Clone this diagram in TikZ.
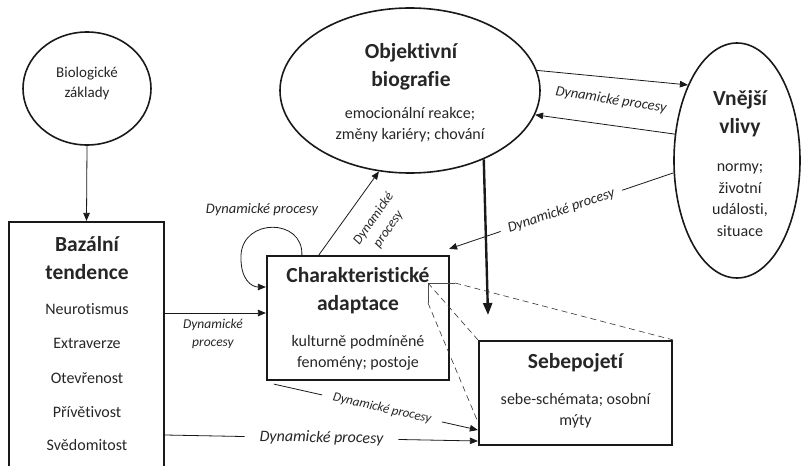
\documentclass[tikz,border=0pt]{standalone}
\usepackage{fontspec}
\setmainfont{Carlito}[Ligatures={NoCommon}]
\usetikzlibrary{shapes.geometric,arrows.meta,calc}
\begin{document}
\begin{tikzpicture}[x=1pt,y=1pt,
  ell/.style={draw=black!90, ellipse, line width=1.6pt, inner sep=0pt},
  box/.style={draw=black!90, rectangle, line width=2.2pt, inner sep=0pt},
  ttl/.style={font=\fontsize{21.5}{28}\selectfont\bfseries, align=center, text=black!85, inner sep=0pt},
  bdy/.style={font=\fontsize{16}{21}\selectfont, align=center, text=black!85, inner sep=0pt},
  arr/.style={-{Triangle[length=8pt,width=6.5pt]}, line width=0.8pt, draw=black!90},
  thickarr/.style={-{Triangle[length=12pt,width=9pt]}, line width=2.4pt, draw=black!90},
  dyn/.style={font=\fontsize{#1}{18}\selectfont\itshape, text=black!85, align=center},
  thinl/.style={draw=black!70, line width=0.6pt},
  dashl/.style={draw=black!80, line width=0.6pt, dash pattern=on 6pt off 4pt}]
\useasboundingbox (0,0) rectangle (801,-466);
\clip (0,0) rectangle (801,-466);

% shapes
\node[ell, minimum width=128, minimum height=113] (bio) at (87,-88.5) {};
\node[bdy, font=\fontsize{15}{20}\selectfont] (biot) at (87,-83) {Biologické\\základy};

\node[box, minimum width=155, minimum height=253] (bazal) at (86.5,-348.5) {};
\node[ttl] (bazalt) at (87,-258) {Bazální\\tendence};
\node[bdy] (trait1) at (87,-309) {Neurotismus};
\node[bdy] (trait2) at (87,-343) {Extraverze};
\node[bdy] (trait3) at (87,-378) {Otevřenost};
\node[bdy] (trait4) at (87,-412) {Přívětivost};
\node[bdy] (trait5) at (87,-445) {Svědomitost};

\node[ell, minimum width=260, minimum height=165] (obj) at (410,-90.5) {};
\node[ttl] (objt) at (411,-67) {Objektivní\\biografie};
\node[bdy] (objb) at (410,-125) {emocionální reakce;\\změny kariéry; chování};

\node[ell, minimum width=126, minimum height=235] (vne) at (737,-160.5) {};
\node[ttl] (vnet) at (740,-114) {Vnější\\vlivy};
\node[bdy, font=\fontsize{16}{21.5}\selectfont] (vneb) at (740,-200) {normy;\\životní\\události,\\situace};

\node[box, minimum width=182, minimum height=124] (char) at (358,-318) {};
\node[ttl] (chart) at (358,-291) {Charakteristické\\adaptace};
\node[bdy] (charb) at (358,-352.5) {kulturně podmíněné\\fenomény; postoje};

\node[box, minimum width=193, minimum height=104] (sebe) at (575.5,-393) {};
\node[ttl] (sebet) at (575.5,-363) {Sebepojetí};
\node[bdy] (sebeb) at (575.5,-411) {sebe-schémata; osobní\\mýty};

% connectors
\draw[arr] (bio.south) -- (bazal.north);

\draw[arr] (bazal.east |- 0,-313) -- (char.west |- 0,-313);
\node[dyn=13.5] (l1) at (213,-334) {Dynamické\\procesy};

\coordinate (lp) at ($(char.north west)+(36,0)$);
\draw[arr] (lp) .. controls (303,-218) and (243,-218) .. (241,-255)
  .. controls (240,-280) and (252,-287) .. (char.west |- 0,-287);
\node[dyn=14.5] (l2) at (262,-210) {Dynamické procesy};

\coordinate (cs) at ($(char.north west)+(53,0)$);
\draw[arr] (cs) -- (obj.-111.8);
\node[dyn=13.5, rotate=55] (l3) at (381,-224) {Dynamické\\procesy};

\coordinate (thk) at (488,-315);
\draw[thickarr] (obj.-43.6) -- (thk);

\draw[arr] (obj.9.5) -- (vne.123.7);
\draw[arr] (vne.157.8) -- (obj.-11.35);
\node[dyn=14.5, rotate=-9] (l4) at (611,-100) {Dynamické procesy};

\coordinate (ve) at ($(char.north east)+(-1,6)$);
\draw[arr] (vne.191.8) -- node[dyn=14.5, sloped, fill=white, inner xsep=8pt, inner ysep=1pt] (l5) {Dynamické procesy} (ve);

\coordinate (cb) at ($(char.south west)+(8,-3)$);
\draw[arr] (cb) -- node[dyn=13, sloped, fill=white, pos=0.53, inner xsep=11pt, inner ysep=1pt] (l6) {Dynamické procesy} (sebe.west |- 0,-430);

\draw[arr] (bazal.east |- 0,-435) -- node[dyn=16, sloped, fill=white, inner xsep=15pt, inner ysep=1pt] (l7) {Dynamické procesy} (sebe.west |- 0,-441);

% callout lines
\coordinate (cp) at (428,-283);
\coordinate (cq) at (455,-283);
\coordinate (cr) at (428,-303);
\draw[thinl] (cp) -- (cq);
\draw[thinl] (cp) -- (cr);
\draw[dashl] (cq) -- (sebe.north east);
\draw[dashl] (cp) -- (sebe.north west);
\draw[dashl] (cr) -- (sebe.west |- 0,-422);
\end{tikzpicture}
\end{document}
